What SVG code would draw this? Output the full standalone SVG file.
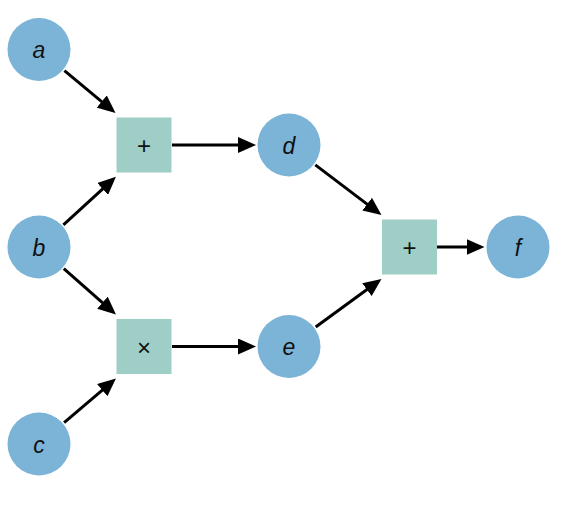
<svg xmlns="http://www.w3.org/2000/svg" width="562" height="506" viewBox="0 0 562 506">
  <defs>
    <marker id="arr" markerUnits="userSpaceOnUse" markerWidth="18" markerHeight="16" refX="9" refY="8" orient="auto" viewBox="0 0 18 16">
      <path d="M0,0 L18,8 L0,16 z" fill="#000"/>
    </marker>
    <style>
      .var { fill: #7bb4d6; }
      .op { fill: #9fcec6; }
      .lbl { font-family: "Liberation Sans", Arial, sans-serif; font-size: 23px; font-style: italic; fill: #111; text-anchor: middle; dominant-baseline: central; }
      .oplbl { font-family: "Liberation Sans", Arial, sans-serif; font-size: 24px; fill: #111; text-anchor: middle; dominant-baseline: central; }
      .edge { stroke: #000; stroke-width: 3; fill: none; marker-end: url(#arr); }
    </style>
  </defs>
  <rect width="562" height="506" fill="#fff"/>
  <g id="edges">
    <line class="edge" x1="64.4" y1="70.6" x2="108.6" y2="107.3"/>
    <line class="edge" x1="63.4" y1="224.8" x2="109.3" y2="182.9"/>
    <line class="edge" x1="63.8" y1="268.7" x2="109.2" y2="308.6"/>
    <line class="edge" x1="64.1" y1="422.6" x2="109.1" y2="384.3"/>
    <line class="edge" x1="172" y1="145" x2="247" y2="145"/>
    <line class="edge" x1="172" y1="346.5" x2="247" y2="346.5"/>
    <line class="edge" x1="315.3" y1="164.9" x2="374.3" y2="209.6"/>
    <line class="edge" x1="315.7" y1="327" x2="374.2" y2="284.3"/>
    <line class="edge" x1="437" y1="247" x2="475.5" y2="247"/>
  </g>
  <g id="a"><circle class="var" cx="39" cy="49.5" r="31.5"/><text class="lbl" x="39" y="50">a</text></g>
  <g id="b"><circle class="var" cx="39" cy="247" r="31.5"/><text class="lbl" x="39" y="247.5">b</text></g>
  <g id="c"><circle class="var" cx="39" cy="444" r="31.5"/><text class="lbl" x="39" y="444.5">c</text></g>
  <g id="add1"><rect class="op" x="116.5" y="117.5" width="55" height="55"/><text class="oplbl" x="144" y="145">+</text></g>
  <g id="mul"><rect class="op" x="116.5" y="319" width="55" height="55"/><text class="oplbl" x="144" y="347" font-size="29">×</text></g>
  <g id="d"><circle class="var" cx="289" cy="145" r="31.5"/><text class="lbl" x="289" y="145.5">d</text></g>
  <g id="e"><circle class="var" cx="289" cy="346.5" r="31.5"/><text class="lbl" x="289" y="347">e</text></g>
  <g id="add2"><rect class="op" x="382" y="219.5" width="55" height="55"/><text class="oplbl" x="409.5" y="247">+</text></g>
  <g id="f"><circle class="var" cx="518" cy="247" r="31.5"/><text class="lbl" x="518" y="247.5">f</text></g>
</svg>
